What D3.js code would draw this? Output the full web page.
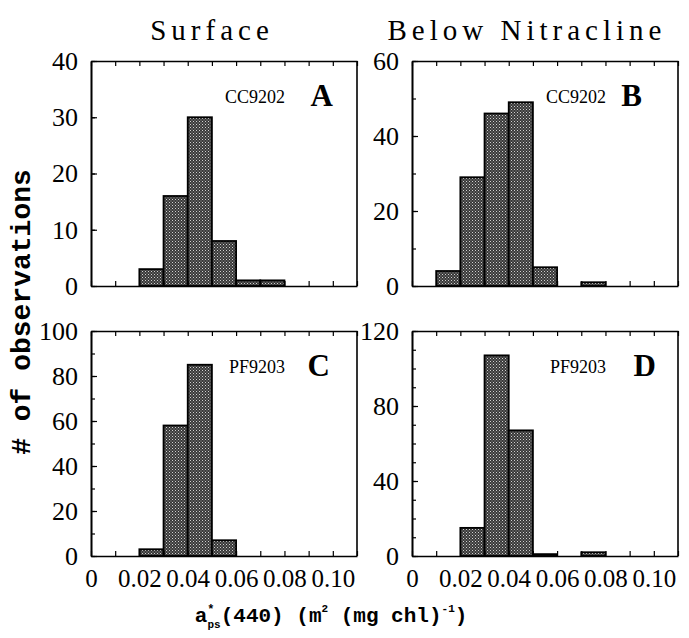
<!DOCTYPE html>
<html>
<head>
<meta charset="utf-8">
<script src="https://cdn.jsdelivr.net/npm/d3@7"></script>
<style>
  body { margin: 0; background: #fff; }
  .tick text { font-family: "Liberation Serif", serif; }
</style>
</head>
<body>
<div id="chart"></div>
<script>
// histogram bins: lower edge of each 0.01 wide bin
var binStarts = [0, 0.01, 0.02, 0.03, 0.04, 0.05, 0.06, 0.07, 0.08, 0.09, 0.10];
var countsA = [0, 0, 3, 16, 30, 8, 1, 1, 0, 0, 0];
var countsB = [0, 4, 29, 46, 49, 5, 0, 1, 0, 0, 0];
var countsC = [0, 0, 3, 58, 85, 7, 0, 0, 0, 0, 0];
var countsD = [0, 0, 15, 107, 67, 1, 0, 2, 0, 0, 0];

var yTicksA = [0, 10, 20, 30, 40];
var yTicksB = [0, 20, 40, 60];
var yTicksC = [0, 20, 40, 60, 80, 100];
var yTicksD = [0, 40, 80, 120];
var xTickLabels = [0, 0.02, 0.04, 0.06, 0.08, 0.10];
var columnTitles = ["Surface", "Below Nitracline"];

var svgWidth = 689;
var svgHeight = 638;
var binWidth = 0.01;

var svg = d3.select("#chart")
  .append("svg")
  .attr("width", svgWidth)
  .attr("height", svgHeight);

// stippled grey fill like the printed bars
var defs = svg.append("defs");
var pat = defs.append("pattern")
  .attr("id", "stipple")
  .attr("width", 3).attr("height", 3)
  .attr("patternUnits", "userSpaceOnUse");
pat.append("rect").attr("width", 3).attr("height", 3).attr("fill", "#383838");
pat.append("rect").attr("x", 0).attr("y", 0).attr("width", 1).attr("height", 1).attr("fill", "#d0d0d0");
pat.append("rect").attr("x", 1.5).attr("y", 1.5).attr("width", 1).attr("height", 1).attr("fill", "#a8a8a8");

var panelW = 266, panelH = 225;
var panels = [
  { counts: countsA, ticks: yTicksA, cruise: "CC9202", letter: "A", left: 91, top: 61, bottomRow: false, letterEnd: 24 },
  { counts: countsB, ticks: yTicksB, cruise: "CC9202", letter: "B", left: 412, top: 61, bottomRow: false, letterEnd: 36 },
  { counts: countsC, ticks: yTicksC, cruise: "PF9203", letter: "C", left: 91, top: 331, bottomRow: true, letterEnd: 27 },
  { counts: countsD, ticks: yTicksD, cruise: "PF9203", letter: "D", left: 412, top: 331, bottomRow: true, letterEnd: 22 }
];

panels.forEach(function(p) {
  var g = svg.append("g").attr("transform", `translate(${p.left}, ${p.top})`);
  var yMax = d3.max(p.ticks);

  var x = d3.scaleLinear().domain([0, 0.11]).range([0, panelW]);
  var y = d3.scaleLinear().domain([0, yMax]).range([panelH, 0]);

  var data = binStarts.map(function(b, i) { return { x0: b, n: p.counts[i] }; })
    .filter(function(d) { return d.n > 0; });

  g.selectAll("rect.bar")
    .data(data)
    .enter()
    .append("rect")
    .attr("class", "bar")
    .attr("x", d => x(d.x0))
    .attr("y", d => y(d.n))
    .attr("width", d => x(d.x0 + binWidth) - x(d.x0))
    .attr("height", d => panelH - y(d.n))
    .attr("fill", "url(#stipple)")
    .attr("stroke", "#000")
    .attr("stroke-width", 1.8);

  var xTickVals = d3.range(0, 0.1101, 0.01);

  // bottom axis
  var bottomAxis = d3.axisBottom(x)
    .tickValues(xTickVals)
    .tickSizeInner(-5)
    .tickSizeOuter(0)
    .tickPadding(13)
    .tickFormat(function(v) {
      if (!p.bottomRow) return "";
      var hit = xTickLabels.find(t => Math.abs(t - v) < 1e-6);
      if (hit === undefined) return "";
      return hit === 0 ? "0" : d3.format(".2f")(hit);
    });
  var bx = g.append("g")
    .attr("transform", `translate(0, ${panelH})`)
    .call(bottomAxis);
  bx.selectAll("text").attr("font-size", 25).attr("fill", "#000");

  // top axis, ticks only
  g.append("g")
    .call(d3.axisTop(x).tickValues(xTickVals).tickSizeInner(-5).tickSizeOuter(0).tickFormat(""));

  // left axis with minor ticks every 10
  var minorVals = d3.range(0, yMax + 0.1, 10);
  g.append("g")
    .call(d3.axisLeft(y).tickValues(minorVals).tickSizeInner(-4).tickSizeOuter(0).tickFormat(""));
  var ly = g.append("g")
    .call(d3.axisLeft(y).tickValues(p.ticks).tickSizeInner(-6).tickSizeOuter(0).tickPadding(13).tickFormat(d3.format("d")));
  ly.selectAll("text").attr("font-size", 26).attr("fill", "#000");

  // right border
  g.append("line")
    .attr("x1", panelW).attr("x2", panelW)
    .attr("y1", 0).attr("y2", panelH)
    .attr("stroke", "#000").attr("stroke-width", 1.6);

  g.selectAll(".domain").attr("stroke-width", 1.6);
  g.selectAll(".tick line").attr("stroke-width", 1.2);

  g.append("text")
    .attr("x", panelW - 72)
    .attr("y", 42)
    .attr("text-anchor", "end")
    .attr("font-family", "Liberation Serif, serif")
    .attr("font-size", 18)
    .text(p.cruise);

  g.append("text")
    .attr("x", panelW - p.letterEnd)
    .attr("y", 45)
    .attr("text-anchor", "end")
    .attr("font-family", "Liberation Serif, serif")
    .attr("font-weight", "bold")
    .attr("font-size", 31)
    .text(p.letter);
});

// column titles
svg.selectAll("text.coltitle")
  .data(columnTitles)
  .enter()
  .append("text")
  .attr("class", "coltitle")
  .attr("x", (d, i) => i === 0 ? 212 : 527)
  .attr("y", 40)
  .attr("text-anchor", "middle")
  .attr("font-family", "Liberation Serif, serif")
  .attr("font-size", 29)
  .attr("letter-spacing", 5)
  .text(d => d);

// y title
svg.append("text")
  .attr("transform", "translate(30, 312) rotate(-90)")
  .attr("text-anchor", "middle")
  .attr("font-family", "Liberation Mono, monospace")
  .attr("font-weight", "bold")
  .attr("font-size", 28)
  .text("# of observations");

// x title
var xt = svg.append("text")
  .attr("x", 331)
  .attr("y", 622)
  .attr("text-anchor", "middle")
  .attr("font-family", "Liberation Mono, monospace")
  .attr("font-weight", "bold")
  .attr("font-size", 21);
xt.append("tspan").text("a");
xt.append("tspan").attr("font-size", 12).attr("dy", -9).text("*");
xt.append("tspan").attr("font-size", 11).attr("dx", -7).attr("dy", 15).text("ps");
xt.append("tspan").attr("dy", -6).text("(440) (m");
xt.append("tspan").attr("font-size", 11).attr("dy", -10).text("2");
xt.append("tspan").attr("dy", 10).text(" (mg chl)");
xt.append("tspan").attr("font-size", 11).attr("dy", -10).text("-1");
xt.append("tspan").attr("dy", 10).text(")");
</script>
</body>
</html>
